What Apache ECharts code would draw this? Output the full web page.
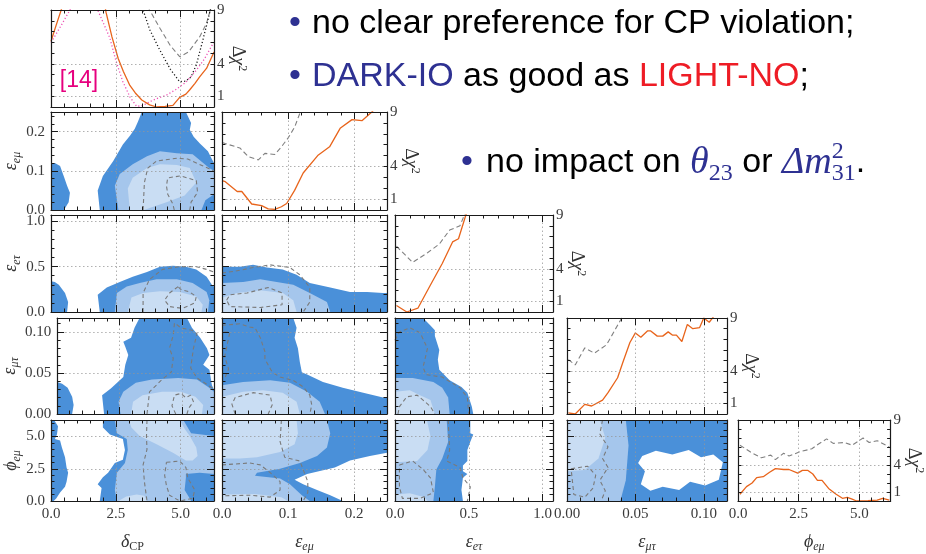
<!DOCTYPE html>
<html><head><meta charset="utf-8">
<script src="https://cdn.jsdelivr.net/npm/echarts@6/dist/echarts.min.js"></script>
<style>html,body{margin:0;padding:0;background:#fff}#c{width:926px;height:554px}</style>
</head><body><div id="c"></div>
<script>
const TWO_PI = 2 * Math.PI;

// Parameters: 0 δCP, 1 ε_eμ, 2 ε_eτ, 3 ε_μτ, 4 φ_eμ
const paramMax    = [TWO_PI, 0.25, 1.07, 0.117, TWO_PI];
const minorStep   = [0.5, 0.02, 0.1, 0.01, 0.5];
const majorStep   = [2.5, 0.1, 0.5, 0.05, 2.5];
const labelDigits = [1, 1, 1, 2, 1];
const chi2Max = 9;
const chi2Labels = [1, 4, 9];
const chi2Grid = [1, 4];

// ---- 1D Δχ² profiles ----
const dcpSolidX = [0, 0.2, 0.42, 0.7, 1.9, 2.12, 2.35, 2.59, 2.79, 3.04, 3.25, 3.5, 3.8, 4.07, 4.4, 4.7, 4.96, 5.2, 5.35, 5.55, 5.73, 6.0, 6.283];
const dcpSolidY = [6.1, 7.6, 9.2, 12, 12, 8.8, 6.5, 4.5, 3.3, 2.0, 1.3, 0.65, 0.2, 0.0, 0.05, 0.15, 0.9, 1.2, 1.6, 2.2, 2.8, 3.6, 5.1];
const dcpPinkX = [0, 0.08, 0.4, 0.73, 1.0, 1.6, 1.8, 2.0, 2.27, 2.5, 2.77, 3.05, 3.3, 3.55, 3.81, 4.1, 4.45, 4.8, 5.2, 5.6, 5.9, 6.25, 6.283];
const dcpPinkY = [6.0, 6.3, 7.6, 9.0, 10.5, 10.5, 9.0, 7.9, 6.4, 4.3, 2.35, 0.9, 0.05, 0.15, 0.5, 0.8, 1.1, 1.6, 2.3, 3.4, 4.4, 5.9, 6.0];
const dcpBlackX = [3.4, 3.55, 3.8, 4.19, 4.6, 4.96, 5.2, 5.4, 5.6, 5.82, 6.0, 6.14, 6.283];
const dcpBlackY = [10.5, 9.0, 7.2, 5.3, 3.5, 2.35, 2.4, 2.8, 3.9, 5.9, 7.6, 9.0, 10];
const dcpDashX = [3.6, 3.8, 4.2, 4.6, 4.96, 5.3, 5.73, 6.0, 6.14, 6.283];
const dcpDashY = [10, 9.0, 7.3, 5.7, 4.67, 5.1, 6.5, 7.8, 9.0, 9.6];

const eemSolidX = [0.0, 0.005, 0.023, 0.03, 0.045, 0.06, 0.07, 0.08, 0.09, 0.098, 0.11, 0.123, 0.145, 0.163, 0.179, 0.197, 0.212, 0.227, 0.24];
const eemSolidY = [2.7, 2.6, 1.7, 1.7, 0.55, 0.4, 0.1, 0.05, 0.3, 0.6, 1.8, 3.4, 5.0, 5.8, 7.5, 8.3, 8.2, 9.0, 9.8];
const eemDashX = [0.0, 0.005, 0.027, 0.04, 0.055, 0.065, 0.08, 0.09, 0.1, 0.11, 0.118, 0.125];
const eemDashY = [6.2, 6.1, 5.7, 4.9, 4.6, 5.2, 5.1, 5.8, 6.6, 7.6, 8.9, 9.8];

const eetSolidX = [0.01, 0.08, 0.155, 0.24, 0.32, 0.39, 0.43, 0.48, 0.5];
const eetSolidY = [0.6, 0.0, 0.35, 2.5, 4.5, 6.5, 6.8, 9.0, 10];
const eetDashX = [0.01, 0.12, 0.22, 0.3, 0.37, 0.44, 0.47, 0.5];
const eetDashY = [6.1, 4.6, 5.5, 6.3, 7.6, 8.0, 9.0, 10];

const emtSolidX = [0.001, 0.006, 0.013, 0.018, 0.026, 0.03, 0.037, 0.041, 0.046, 0.05, 0.054, 0.059, 0.061, 0.066, 0.07, 0.074, 0.077, 0.08, 0.084, 0.088, 0.092, 0.097, 0.1, 0.104, 0.107, 0.11];
const emtSolidY = [0.1, 0.0, 0.9, 0.75, 1.3, 2.0, 3.4, 4.9, 6.7, 7.6, 7.2, 7.8, 7.8, 7.3, 7.3, 7.7, 7.4, 7.4, 6.8, 8.4, 8.0, 8.1, 9.0, 8.6, 9.1, 9.5];
const emtDashX = [0.001, 0.006, 0.013, 0.02, 0.029, 0.04, 0.043];
const emtDashY = [5.1, 4.6, 6.2, 5.7, 6.5, 9.0, 9.6];

const phiSolidX = [0.08, 0.35, 0.58, 0.77, 1.04, 1.3, 1.54, 1.88, 2.1, 2.46, 2.65, 2.88, 3.08, 3.27, 3.46, 3.73, 4.04, 4.3, 4.5, 4.7, 4.88, 5.35, 5.73, 5.96, 6.23];
const phiSolidY = [0.75, 1.6, 2.0, 2.6, 2.7, 3.2, 3.6, 3.5, 3.5, 3.1, 3.4, 3.4, 3.0, 2.3, 2.3, 1.4, 0.75, 0.3, 0.4, 0.2, 0.0, 0.05, 0.1, 0.3, 0.1];
const phiDashX = [0.08, 0.54, 0.96, 1.35, 1.54, 1.88, 2.1, 2.58, 3.04, 3.3, 3.65, 3.92, 4.38, 4.7, 5.15, 5.4, 5.73, 6.23];
const phiDashY = [6.2, 5.4, 4.8, 5.1, 4.6, 5.3, 5.0, 5.5, 5.8, 6.3, 6.9, 6.4, 6.5, 6.2, 7.0, 6.5, 6.7, 6.0];

// ---- 2D allowed regions (outer / middle / inner) and dashed contours ----
// δCP – ε_eμ
const r10DarkA = [[0,0],[0,0.12],[0.15,0.12],[0.35,0.112],[0.5,0.085],[0.62,0.062],[0.73,0.044],[0.68,0.02],[0.5,0]];
const r10DarkB = [[1.88,0],[1.8,0.05],[2.0,0.087],[2.4,0.125],[2.77,0.167],[3.05,0.19],[3.23,0.207],[3.35,0.225],[3.5,0.25],[5.2,0.25],[5.4,0.222],[5.35,0.205],[5.5,0.187],[5.73,0.17],[6.05,0.15],[6.2,0.13],[6.283,0.12],[6.283,0]];
const r10Mid = [[2.6,0],[2.46,0.062],[2.65,0.092],[3.15,0.117],[3.7,0.137],[4.2,0.15],[4.85,0.145],[5.46,0.142],[6.1,0.107],[6.283,0.1],[6.283,0.04],[5.95,0.025],[5.8,0]];
const r10Light = [[3.04,0],[2.96,0.055],[3.15,0.082],[3.7,0.107],[4.2,0.117],[4.85,0.115],[5.35,0.107],[5.6,0.07],[5.15,0.037],[4.45,0.02],[3.8,0.005],[3.6,0]];
const r10DashA = [[3.55,0],[3.6,0.07],[3.73,0.107],[4.07,0.125],[4.85,0.132],[5.27,0.13],[6.1,0.105],[6.283,0.098]];
const r10DashB = [[4.75,0],[4.7,0.015],[4.5,0.04],[4.45,0.062],[4.5,0.082],[5.0,0.087],[5.6,0.075],[5.65,0.045],[5.4,0.02],[5.35,0]];

// δCP – ε_eτ
const r20DarkA = [[0,0],[0,0.34],[0.15,0.33],[0.3,0.3],[0.54,0.21],[0.66,0.11],[0.62,0]];
const r20DarkB = [[1.88,0],[1.8,0.19],[2.15,0.27],[2.65,0.33],[3.15,0.39],[3.7,0.44],[4.2,0.5],[4.7,0.51],[5.2,0.5],[5.6,0.47],[6.0,0.39],[6.2,0.3],[6.283,0.28],[6.283,0]];
const r20Mid = [[2.46,0],[2.54,0.21],[2.92,0.28],[3.42,0.32],[4.07,0.36],[4.85,0.36],[5.46,0.32],[6.0,0.22],[6.1,0.13],[6.05,0]];
const r20Light = [[2.96,0],[3.1,0.16],[3.55,0.21],[4.2,0.23],[4.96,0.22],[5.6,0.17],[5.85,0.08],[5.8,0]];
const r20DashA = [[3.55,0],[3.55,0.21],[3.8,0.36],[4.3,0.47],[4.96,0.5],[5.6,0.5],[6.0,0.47],[6.283,0.44]];
const r20DashB = [[4.9,0.28],[4.57,0.21],[4.38,0.13],[4.57,0.06],[5.07,0.04],[5.54,0.1],[5.6,0.17],[5.35,0.22],[5.0,0.25],[4.9,0.28]];

// δCP – ε_μτ
const r30DarkA = [[0,0],[0,0.039],[0.2,0.037],[0.42,0.032],[0.6,0.021],[0.66,0.011],[0.6,0]];
const r30DarkB = [[1.88,0],[1.8,0.023],[2.15,0.031],[2.4,0.038],[2.65,0.045],[2.73,0.06],[2.85,0.072],[2.73,0.082],[2.65,0.088],[2.96,0.093],[3.1,0.105],[3.3,0.117],[5.2,0.117],[5.4,0.105],[5.73,0.093],[6.0,0.08],[6.1,0.072],[5.85,0.06],[6.1,0.054],[6.2,0.035],[6.283,0.03],[6.283,0]];
const r30Mid = [[2.54,0],[2.46,0.015],[2.65,0.027],[3.15,0.038],[3.8,0.042],[4.85,0.044],[5.6,0.042],[6.05,0.033],[6.283,0.027],[6.283,0]];
const r30Light = [[2.96,0],[3.04,0.015],[3.42,0.023],[4.2,0.027],[4.96,0.027],[5.54,0.021],[5.85,0.011],[5.8,0]];
const r30DashA = [[3.6,0],[3.7,0.027],[4.2,0.042],[4.57,0.051],[4.65,0.068],[4.5,0.08],[4.65,0.096],[4.7,0.111],[4.96,0.105],[5.4,0.102],[5.6,0.098],[5.46,0.08],[5.35,0.056],[5.6,0.044],[6.05,0.035],[6.283,0.03]];
const r30DashB = [[4.75,0],[4.6,0.01],[4.7,0.023],[4.96,0.025],[5.15,0.02],[5.35,0.023],[5.46,0.015],[5.27,0.007],[5.2,0]];

// δCP – φ_eμ
const r40DarkA = [[0,0],[0,6.283],[0.12,6.283],[0.27,5.8],[0.23,5.15],[0.15,4.8],[0.35,4.7],[0.42,4.15],[0.54,3.4],[0.6,2.6],[0.66,2.2],[0.6,1.5],[0.54,1.1],[0.35,0.65],[0.2,0.2],[0.1,0]];
const r40DarkB = [[1.88,0],[1.95,1.0],[1.8,1.3],[2.0,1.85],[2.2,2.2],[2.46,2.95],[2.77,3.2],[2.85,3.95],[2.77,4.8],[2.27,5.15],[2.0,5.7],[2.0,6.283],[6.283,6.283],[6.283,0]];
const r40Mid = [[2.54,0],[2.46,0.85],[2.54,2.2],[2.85,2.95],[2.96,3.95],[2.92,4.8],[2.54,5.25],[2.46,6.283],[5.1,6.283],[5.4,5.25],[6.283,5.05],[6.283,2.1],[5.73,2.2],[5.2,2.1],[5.2,1.8],[5.15,0.85],[5.35,0.2],[5.4,0]];
const r40LightA = [[3.0,6.283],[3.1,5.7],[3.42,5.05],[4.07,4.4],[4.7,3.75],[5.2,3.15],[5.46,3.15],[5.65,3.5],[5.6,4.15],[5.35,5.05],[5.15,5.6],[4.96,6.283]];
const r40LightB = [[2.6,0],[2.9,0.35],[3.3,0.5],[3.6,0.4],[3.7,0]];
const r40DashA = [[3.7,6.283],[3.68,5.0],[3.7,4.0],[3.55,2.8],[3.6,1.5],[3.7,0]];
const r40DashB = [[4.45,3.0],[4.96,3.1],[5.2,2.6],[5.27,1.8],[5.54,0.85],[5.46,0.2],[4.96,0],[4.57,0.45],[4.45,1.2],[4.38,2.0],[4.45,3.0]];

// ε_eμ – ε_eτ
const r21Dark = [[0,0],[0,0.5],[0.027,0.5],[0.047,0.52],[0.068,0.49],[0.092,0.47],[0.113,0.41],[0.133,0.32],[0.164,0.27],[0.194,0.22],[0.22,0.22],[0.244,0.21],[0.25,0.21],[0.25,0]];
const r21Mid = [[0,0],[0,0.32],[0.032,0.33],[0.058,0.36],[0.083,0.33],[0.108,0.3],[0.133,0.21],[0.159,0.11],[0.164,0]];
const r21Light = [[0,0],[0,0.16],[0.023,0.21],[0.058,0.24],[0.092,0.21],[0.108,0.13],[0.113,0]];
const r21DashA = [[0,0.43],[0.02,0.45],[0.047,0.49],[0.073,0.52],[0.103,0.49],[0.118,0.41],[0.133,0.27],[0.133,0.11],[0.123,0]];
const r21DashB = [[0.007,0.13],[0.012,0.19],[0.038,0.21],[0.07,0.27],[0.091,0.21],[0.091,0.08],[0.058,0.05],[0.012,0.06],[0.007,0.13]];

// ε_eμ – ε_μτ
const r31Dark = [[0,0],[0,0.117],[0.108,0.117],[0.113,0.105],[0.11,0.093],[0.115,0.08],[0.118,0.063],[0.121,0.051],[0.129,0.048],[0.153,0.039],[0.183,0.032],[0.214,0.026],[0.244,0.02],[0.25,0.02],[0.25,0]];
const r31Mid = [[0,0],[0,0.035],[0.032,0.039],[0.073,0.041],[0.103,0.038],[0.129,0.027],[0.148,0.015],[0.156,0]];
const r31Light = [[0,0],[0,0.021],[0.032,0.027],[0.062,0.029],[0.092,0.026],[0.113,0.015],[0.118,0]];
const r31DashA = [[0,0.108],[0.027,0.11],[0.042,0.106],[0.05,0.105],[0.058,0.093],[0.065,0.076],[0.065,0.067],[0.076,0.051],[0.088,0.045],[0.108,0.041],[0.123,0.033],[0.133,0.023],[0.136,0.011],[0.133,0]];
const r31DashB = [[0.02,0],[0.015,0.012],[0.02,0.02],[0.047,0.026],[0.073,0.023],[0.076,0.011],[0.07,0]];
const r31DashC = [[0.003,0.1],[0.012,0.1],[0.008,0.085],[0.004,0.07],[0.01,0.055],[0.005,0.045]];

// ε_eτ – ε_μτ
const r32Dark = [[0,0],[0,0.117],[0.19,0.117],[0.24,0.108],[0.27,0.102],[0.27,0.095],[0.3,0.078],[0.29,0.066],[0.3,0.054],[0.37,0.041],[0.45,0.033],[0.49,0.026],[0.52,0.009],[0.53,0]];
const r32Mid = [[0,0],[0,0.044],[0.12,0.044],[0.26,0.039],[0.32,0.032],[0.36,0.02],[0.37,0]];
const r32Light = [[0,0],[0,0.027],[0.1,0.029],[0.17,0.023],[0.24,0.017],[0.27,0]];
const r32DashA = [[0,0.09],[0.03,0.1],[0.1,0.105],[0.17,0.099],[0.22,0.08],[0.19,0.057],[0.21,0.048],[0.32,0.045],[0.44,0.032],[0.49,0.02],[0.5,0]];
const r32DashB = [[0.02,0],[0.03,0.009],[0.08,0.021],[0.15,0.023],[0.19,0.017],[0.24,0.009],[0.27,0]];

// ε_eμ – φ_eμ
const r41Dark = [[0,0],[0,6.283],[0.25,6.283],[0.25,3.75],[0.224,3.5],[0.194,3.15],[0.171,2.6],[0.129,2.1],[0.11,1.65],[0.123,1.3],[0.144,0.85],[0.164,0.45],[0.183,0]];
const r41Mid = [[0,0],[0,6.283],[0.159,6.283],[0.164,5.25],[0.159,4.15],[0.144,3.5],[0.118,2.95],[0.088,2.5],[0.053,2.2],[0.05,1.95],[0.088,1.75],[0.103,1.3],[0.121,0.45],[0.133,0]];
const r41LightA = [[0,6.283],[0.113,6.283],[0.115,5.25],[0.11,4.4],[0.088,3.8],[0.053,3.4],[0.027,3.3],[0,3.3]];
const r41LightB = [[0,0],[0,0.5],[0.05,0.55],[0.09,0.3],[0.1,0]];
const r41DashA = [[0.09,6.283],[0.088,4.6],[0.095,3.4],[0.118,3.1],[0.13,1.5],[0.13,0.65],[0.123,0]];
const r41DashB = [[0,2.8],[0.042,2.95],[0.058,2.8],[0.073,2.2],[0.088,1.5],[0.088,0.85],[0.073,0.3],[0.042,0.45],[0,0.4]];

// ε_eτ – φ_eμ
const r42Dark = [[0,0],[0,6.283],[0.51,6.283],[0.51,5.25],[0.53,5.15],[0.51,4.6],[0.49,3.95],[0.49,3.1],[0.46,2.75],[0.46,2.3],[0.49,2.1],[0.46,1.8],[0.45,0.85],[0.46,0]];
const r42Mid = [[0,0],[0,6.283],[0.35,6.283],[0.36,4.6],[0.32,3.3],[0.28,2.45],[0.27,1.1],[0.26,0]];
const r42LightA = [[0,6.283],[0.216,6.283],[0.24,5.05],[0.22,3.95],[0.15,3.1],[0,3.0]];
const r42LightB = [[0,0],[0,0.5],[0.1,0.6],[0.2,0.3],[0.22,0]];
const r42DashA = [[0.36,6.283],[0.37,3.95],[0.35,3.1],[0.44,2.6],[0.46,1.8],[0.51,1.1],[0.49,0]];
const r42DashB = [[0.03,2.8],[0.12,3.1],[0.19,2.45],[0.24,1.8],[0.26,0.65],[0.17,0.2],[0.05,0.2],[0.03,1.1],[0.03,2.8]];

// ε_μτ – φ_eμ
const r43Dark = [[0,0],[0,6.283],[0.117,6.283],[0.117,0]];
const r43Mid = [[0,0],[0,6.283],[0.043,6.283],[0.045,4.3],[0.043,1.6],[0.039,0]];
const r43LightA = [[0,6.283],[0.024,6.283],[0.028,4.9],[0.023,3.3],[0.013,2.4],[0,2.3]];
const r43Gap = [[0.052,2.95],[0.055,3.5],[0.065,3.9],[0.077,3.6],[0.089,3.95],[0.098,3.4],[0.107,3.6],[0.114,3.0],[0.111,1.65],[0.101,1.2],[0.09,1.5],[0.082,0.85],[0.07,1.1],[0.061,0.8],[0.054,1.3],[0.057,2.3]];
const r43DashA = [[0.026,6.283],[0.024,5.2],[0.03,4.2],[0.026,3.3],[0.03,2.6],[0.024,1.6],[0.028,0.8],[0.025,0]];
const r43DashB = [[0.003,2.5],[0.015,2.7],[0.021,2.0],[0.019,1.0],[0.013,0.3],[0.005,0.5],[0.003,2.5]];

// ---- layout ----
const colLeft = [51, 222, 395, 567, 738];
const colWidth = [163, 165, 158, 160, 164];
const rowTop = [10, 112, 215, 318, 420];
const rowHeight = [97, 98, 97, 96, 95];
const yNameGap = [0, 25, 25, 35, 25];

const C_DARK = '#4a90d9', C_MID = '#a5c6ec', C_LIGHT = '#c9ddf3';
const C_SOLID = '#e8641b', C_DASH = '#808080', C_PINK = '#ee4fb4', C_BLACK = '#1a1a1a';
const SERIF = 'Liberation Serif', SANS = 'Liberation Sans';

const zip = (xs, ys) => xs.map((x, i) => [x, ys[i]]);
const isMajor = (v, s) => { const k = v / s; return Math.abs(k - Math.round(k)) < 1e-6; };

const nameRich = {
  i:  { fontFamily: SERIF, fontStyle: 'italic', fontSize: 18, color: '#333', lineHeight: 22, verticalAlign: 'middle' },
  u:  { fontFamily: SERIF, fontSize: 18, color: '#333', lineHeight: 22, verticalAlign: 'middle' },
  s:  { fontFamily: SERIF, fontStyle: 'italic', fontSize: 12, color: '#333', lineHeight: 14, verticalAlign: 'bottom' },
  su: { fontFamily: SERIF, fontSize: 12, color: '#333', lineHeight: 14, verticalAlign: 'bottom' },
  sp: { fontFamily: SERIF, fontSize: 12, color: '#333', lineHeight: 14, verticalAlign: 'top' }
};
const paramNames = ['{i|δ}{su|CP}', '{i|ε}{s|eμ}', '{i|ε}{s|eτ}', '{i|ε}{s|μτ}', '{i|ϕ}{s|eμ}'];
const chi2Name = '{u|Δ}{i|χ}{sp|2}';

const lineC = { color: '#1a1a1a', width: 1.2 };
const tickC = { color: '#1a1a1a', width: 1 };
const labelBase = { fontFamily: SERIF, fontSize: 15, color: '#3a3a3a' };
const AX_PER_GRID = 4;

const grids = [], xAxes = [], yAxes = [], series = [];

// framed axis with a tick at every minor step
function paramAxis(d, gi, pos, showLabel) {
  return {
    type: 'value', gridIndex: gi, position: pos, min: 0, max: paramMax[d], interval: minorStep[d], z: 6,
    axisLine: { show: true, onZero: false, lineStyle: lineC },
    axisTick: { show: true, inside: true, length: 3.5, lineStyle: tickC },
    splitLine: { show: false },
    axisLabel: Object.assign({ show: showLabel, margin: 6, hideOverlap: false,
      formatter: v => isMajor(v, majorStep[d]) ? v.toFixed(labelDigits[d]) : '' }, labelBase)
  };
}
// overlay axis carrying only the longer major ticks
function paramMajorAxis(d, gi, pos) {
  return {
    type: 'value', gridIndex: gi, position: pos, min: 0, max: paramMax[d], interval: majorStep[d], z: 6,
    axisLine: { show: false, onZero: false }, axisLabel: { show: false }, splitLine: { show: false },
    axisTick: { show: true, inside: true, length: 7, lineStyle: tickC }
  };
}
function chi2Axis(gi, pos, showLabel) {
  return {
    type: 'value', gridIndex: gi, position: pos, min: 0, max: chi2Max, interval: 1, z: 6,
    axisLine: { show: true, onZero: false, lineStyle: lineC },
    axisTick: { show: true, inside: true, length: 3.5, lineStyle: tickC },
    splitLine: { show: false },
    axisLabel: Object.assign({ show: showLabel, margin: 3,
      formatter: v => chi2Labels.indexOf(Math.round(v)) >= 0 && Math.abs(v - Math.round(v)) < 1e-9 ? String(Math.round(v)) : '' }, labelBase)
  };
}
function chi2MajorAxis(gi, pos) {
  return {
    type: 'value', gridIndex: gi, position: pos, min: 0, max: chi2Max, interval: 3, z: 6,
    axisLine: { show: false, onZero: false }, axisLabel: { show: false }, splitLine: { show: false },
    axisTick: { show: false }
  };
}

function gridLines(gi, xs, ys) {
  const data = xs.map(v => ({ xAxis: v })).concat(ys.map(v => ({ yAxis: v })));
  series.push({ type: 'line', xAxisIndex: AX_PER_GRID * gi, yAxisIndex: AX_PER_GRID * gi, data: [], z: 4, silent: true,
    markLine: { silent: true, symbol: 'none', label: { show: false }, animation: false,
      lineStyle: { type: [1.5, 2.5], color: 'rgba(150,150,150,0.75)', width: 1 }, data } });
}
function poly(gi, pts, color, z) {
  series.push({ type: 'custom', xAxisIndex: AX_PER_GRID * gi, yAxisIndex: AX_PER_GRID * gi, data: [[0, 0]], z: z, silent: true, clip: true,
    renderItem: (params, api) => ({ type: 'polygon', shape: { points: pts.map(p => api.coord(p)) }, style: { fill: color } }) });
}
function curve(gi, pts, color, type, width, z) {
  series.push({ type: 'line', xAxisIndex: AX_PER_GRID * gi, yAxisIndex: AX_PER_GRID * gi, data: pts, showSymbol: false, symbol: 'none',
    clip: true, z: z || 3, silent: true, lineStyle: { color, type, width } });
}
const majorsOf = d => { const out = []; for (let v = majorStep[d]; v < paramMax[d] - 1e-9; v += majorStep[d]) out.push(+v.toFixed(6)); return out; };

let gi = 0;
const gridIndexOf = {};
for (let r = 0; r < 5; r++) {
  for (let c = 0; c <= r; c++) {
    gridIndexOf[r + '_' + c] = gi;
    grids.push({ left: colLeft[c], top: rowTop[r], width: colWidth[c], height: rowHeight[r] });
    const bottomRow = r === 4;
    const xb = paramAxis(c, gi, 'bottom', bottomRow);
    if (bottomRow) Object.assign(xb, { name: paramNames[c], nameLocation: 'middle', nameGap: 30, nameTextStyle: { rich: nameRich } });
    xAxes.push(xb, paramAxis(c, gi, 'top', false), paramMajorAxis(c, gi, 'bottom'), paramMajorAxis(c, gi, 'top'));
    if (r === c) {
      const yr = chi2Axis(gi, 'right', true);
      Object.assign(yr, { name: chi2Name, nameLocation: 'middle', nameGap: 9, nameRotate: -90, nameTextStyle: { rich: nameRich } });
      yAxes.push(chi2Axis(gi, 'left', false), yr, chi2MajorAxis(gi, 'left'), chi2MajorAxis(gi, 'right'));
      gridLines(gi, majorsOf(c), chi2Grid);
    } else {
      const yl = paramAxis(r, gi, 'left', c === 0);
      if (c === 0) Object.assign(yl, { name: paramNames[r], nameLocation: 'middle', nameGap: yNameGap[r], nameTextStyle: { rich: nameRich } });
      yAxes.push(yl, paramAxis(r, gi, 'right', false), paramMajorAxis(r, gi, 'left'), paramMajorAxis(r, gi, 'right'));
      gridLines(gi, majorsOf(c), majorsOf(r));
    }
    gi++;
  }
}

// 1D profiles on the diagonal
const g = (r, c) => gridIndexOf[r + '_' + c];
curve(g(0,0), zip(dcpDashX, dcpDashY), C_DASH, [5, 3], 1.1);
curve(g(0,0), zip(dcpBlackX, dcpBlackY), C_BLACK, [1.2, 2.2], 1.3);
curve(g(0,0), zip(dcpPinkX, dcpPinkY), C_PINK, [1.2, 2.2], 1.3);
curve(g(0,0), zip(dcpSolidX, dcpSolidY), C_SOLID, 'solid', 1.3);
curve(g(1,1), zip(eemDashX, eemDashY), C_DASH, [5, 3], 1.1);
curve(g(1,1), zip(eemSolidX, eemSolidY), C_SOLID, 'solid', 1.3);
curve(g(2,2), zip(eetDashX, eetDashY), C_DASH, [5, 3], 1.1);
curve(g(2,2), zip(eetSolidX, eetSolidY), C_SOLID, 'solid', 1.3);
curve(g(3,3), zip(emtDashX, emtDashY), C_DASH, [5, 3], 1.1);
curve(g(3,3), zip(emtSolidX, emtSolidY), C_SOLID, 'solid', 1.3);
curve(g(4,4), zip(phiDashX, phiDashY), C_DASH, [5, 3], 1.1);
curve(g(4,4), zip(phiSolidX, phiSolidY), C_SOLID, 'solid', 1.3);

// 2D regions
const regions = [
  ['1_0', [r10DarkA, r10DarkB], [r10Mid], [r10Light], [], [r10DashA, r10DashB]],
  ['2_0', [r20DarkA, r20DarkB], [r20Mid], [r20Light], [], [r20DashA, r20DashB]],
  ['3_0', [r30DarkA, r30DarkB], [r30Mid], [r30Light], [], [r30DashA, r30DashB]],
  ['4_0', [r40DarkA, r40DarkB], [r40Mid], [r40LightA, r40LightB], [], [r40DashA, r40DashB]],
  ['2_1', [r21Dark], [r21Mid], [r21Light], [], [r21DashA, r21DashB]],
  ['3_1', [r31Dark], [r31Mid], [r31Light], [], [r31DashA, r31DashB, r31DashC]],
  ['4_1', [r41Dark], [r41Mid], [r41LightA, r41LightB], [], [r41DashA, r41DashB]],
  ['3_2', [r32Dark], [r32Mid], [r32Light], [], [r32DashA, r32DashB]],
  ['4_2', [r42Dark], [r42Mid], [r42LightA, r42LightB], [], [r42DashA, r42DashB]],
  ['4_3', [r43Dark], [r43Mid], [r43LightA], [r43Gap], [r43DashA, r43DashB]]
];
regions.forEach(([key, dark, mid, light, gaps, dashes]) => {
  const k = gridIndexOf[key];
  dark.forEach(p => poly(k, p, C_DARK, 1));
  mid.forEach(p => poly(k, p, C_MID, 1));
  light.forEach(p => poly(k, p, C_LIGHT, 1));
  gaps.forEach(p => poly(k, p, '#ffffff', 1));
  dashes.forEach(p => curve(k, p, '#7a7a7a', [4, 3], 1.1, 3));
});

const NAVY = '#2e3192', RED = '#ee1c25';
const FS = 34;
const plain = (x, y, text, fill) => ({ type: 'text', x, y, z: 20, style: { text, fill, font: FS + 'px ' + SANS, align: 'left', verticalAlign: 'middle', textAlign: 'left', textVerticalAlign: 'middle' } });
const bullet = (x, y) => ({ type: 'text', x, y, z: 20, style: { text: '•', fill: NAVY, font: FS + 'px ' + SANS, align: 'center', verticalAlign: 'middle', textAlign: 'center', textVerticalAlign: 'middle' } });
const textEls = [
  bullet(295, 24),
  plain(312, 24, 'no clear preference for CP violation;', '#000'),
  bullet(295, 77),
  { type: 'text', x: 312, y: 77, z: 20, style: { text: '{b|DARK-IO} as good as {r|LIGHT-NO};', fill: '#000', font: FS + 'px ' + SANS, align: 'left', verticalAlign: 'middle', textAlign: 'left', textVerticalAlign: 'middle',
      rich: { b: { fill: NAVY, fontFamily: SANS, fontSize: FS }, r: { fill: RED, fontFamily: SANS, fontSize: FS } } } },
  bullet(467, 163),
  { type: 'text', x: 486, y: 163, z: 20, style: {
      text: '{n|no impact on }{t|θ}{ts|23}{n| or }{d|Δ}{m|m}{sp|2}{sb|31}{n|.}',
      fill: '#000', font: FS + 'px ' + SANS, align: 'left', verticalAlign: 'middle', textAlign: 'left', textVerticalAlign: 'middle',
      rich: {
        n:  { fill: '#000', fontFamily: SANS, fontSize: FS, lineHeight: 46, verticalAlign: 'middle' },
        t:  { fill: NAVY, fontFamily: SERIF, fontStyle: 'italic', fontSize: 38, lineHeight: 46, verticalAlign: 'middle' },
        ts: { fill: NAVY, fontFamily: SERIF, fontSize: 24, lineHeight: 26, verticalAlign: 'bottom' },
        d:  { fill: NAVY, fontFamily: SERIF, fontStyle: 'italic', fontSize: 38, lineHeight: 46, verticalAlign: 'middle' },
        m:  { fill: NAVY, fontFamily: SERIF, fontStyle: 'italic', fontSize: 38, lineHeight: 46, verticalAlign: 'middle' },
        sp: { fill: NAVY, fontFamily: SERIF, fontSize: 24, lineHeight: 26, verticalAlign: 'top', width: 0 },
        sb: { fill: NAVY, fontFamily: SERIF, fontSize: 24, lineHeight: 26, verticalAlign: 'bottom' }
      } } },
  { type: 'text', x: 79, y: 81, z: 20, style: { text: '[14]', fill: '#e6007e', font: '23px ' + SANS, align: 'center', verticalAlign: 'middle', textAlign: 'center', textVerticalAlign: 'middle' } }
];

const chart = echarts.init(document.getElementById('c'), null, { renderer: 'canvas' });
chart.setOption({
  animation: false,
  backgroundColor: '#fff',
  grid: grids, xAxis: xAxes, yAxis: yAxes, series: series,
  graphic: textEls
});
</script></body></html>
